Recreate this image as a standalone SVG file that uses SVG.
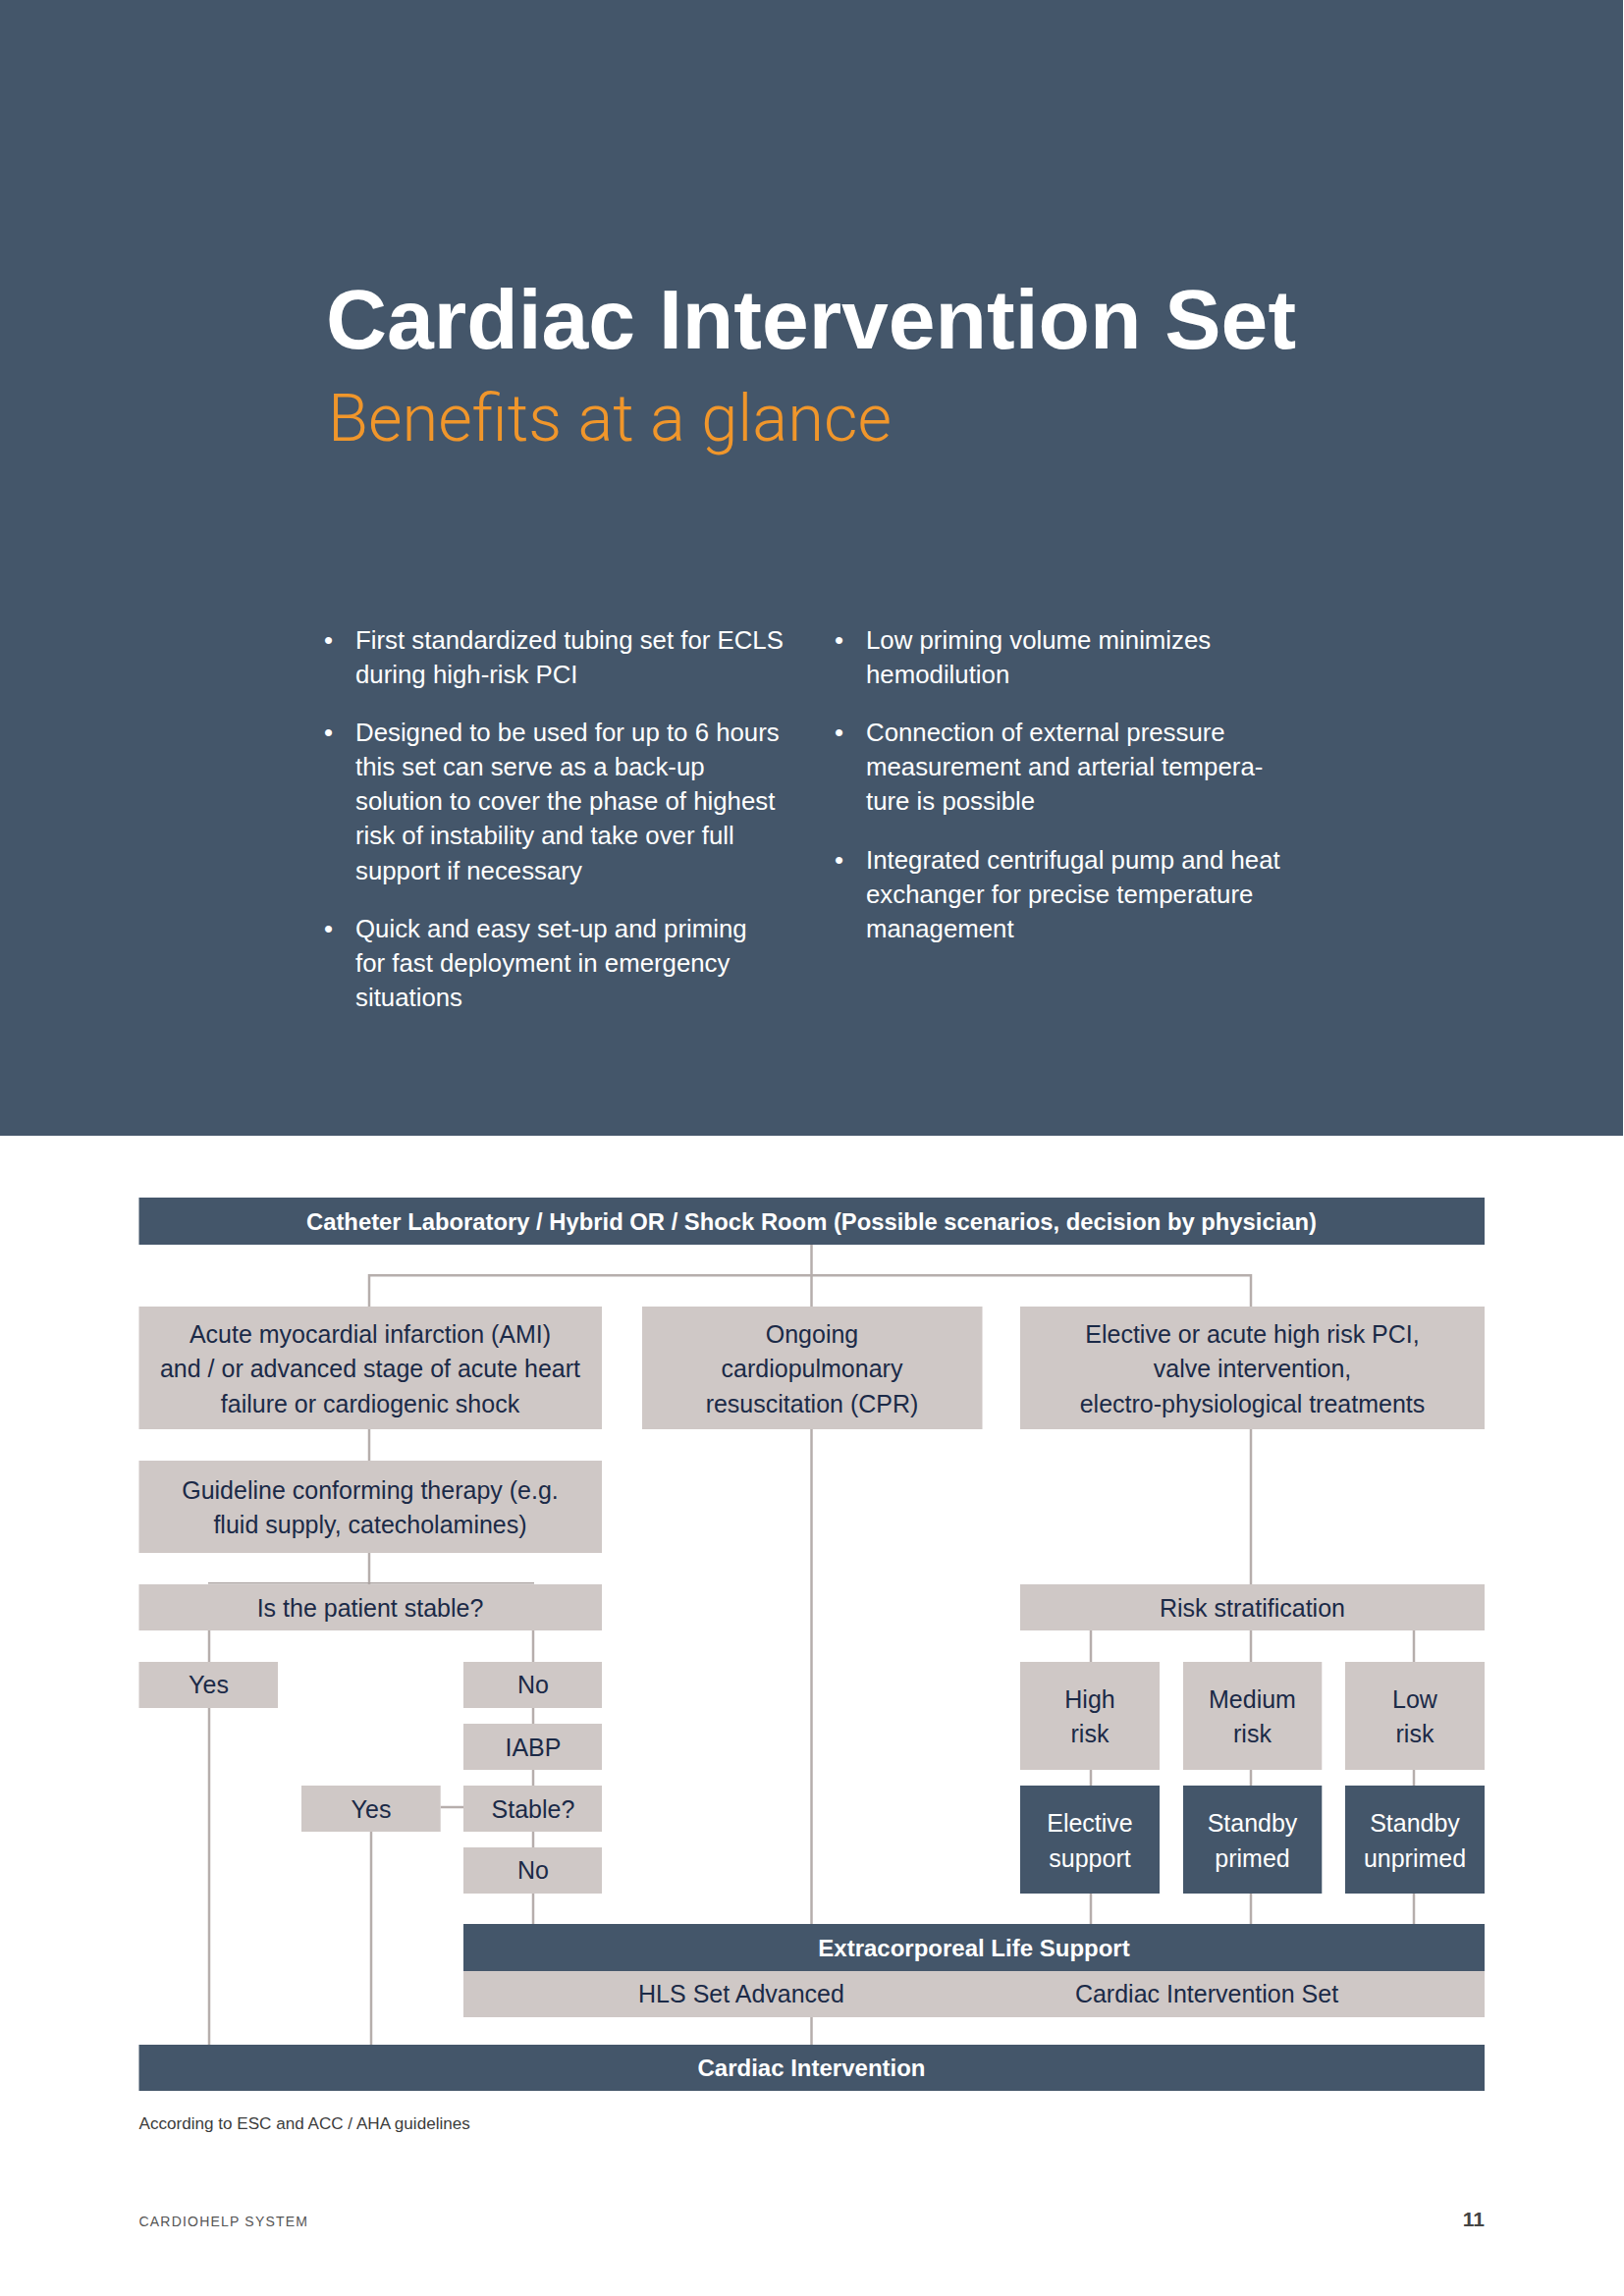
<svg xmlns="http://www.w3.org/2000/svg" width="1654" height="2339" viewBox="0 0 1654 2339">
<style>
  .hdr { fill:#44566A; }
  .lb { fill:#CFC8C6; }
  .db { fill:#44566A; }
  .t { font-family:"Liberation Sans", Arial, sans-serif; font-size:25px; fill:#1B2A47; text-anchor:middle; }
  .tw { font-family:"Liberation Sans", Arial, sans-serif; font-size:25px; fill:#FFFFFF; text-anchor:middle; }
  .tb { font-family:"Liberation Sans", Arial, sans-serif; font-size:24px; font-weight:bold; fill:#FFFFFF; text-anchor:middle; }
  .bul { font-family:"Liberation Sans", Arial, sans-serif; font-size:25.8px; fill:#FFFFFF; }
  .conn line { stroke:#B6AEAC; stroke-width:2.5; }
</style>
<rect width="1654" height="2339" fill="#FFFFFF"/>
<rect class="hdr" x="0" y="0" width="1653" height="1157"/>

<g id="header">
  <text x="332" y="355" font-family="'Liberation Sans', Arial, sans-serif" font-size="86" font-weight="bold" fill="#FFFFFF" textLength="988" lengthAdjust="spacingAndGlyphs">Cardiac Intervention Set</text>
  <text x="334" y="449" font-family="Roboto, 'Liberation Sans', sans-serif" font-size="66" font-weight="300" fill="#F0962B" textLength="574" lengthAdjust="spacingAndGlyphs">Benefits at a glance</text>
</g>

<g id="bullets-left" class="bul">
  <text x="330" y="661">•</text>
  <text x="362" y="661">First standardized tubing set for ECLS</text>
  <text x="362" y="696">during high-risk PCI</text>
  <text x="330" y="755">•</text>
  <text x="362" y="755">Designed to be used for up to 6 hours</text>
  <text x="362" y="790">this set can serve as a back-up</text>
  <text x="362" y="825">solution to cover the phase of highest</text>
  <text x="362" y="860">risk of instability and take over full</text>
  <text x="362" y="896">support if necessary</text>
  <text x="330" y="955">•</text>
  <text x="362" y="955">Quick and easy set-up and priming</text>
  <text x="362" y="990">for fast deployment in emergency</text>
  <text x="362" y="1025">situations</text>
</g>
<g id="bullets-right" class="bul">
  <text x="850" y="661">•</text>
  <text x="882" y="661">Low priming volume minimizes</text>
  <text x="882" y="696">hemodilution</text>
  <text x="850" y="755">•</text>
  <text x="882" y="755">Connection of external pressure</text>
  <text x="882" y="790">measurement and arterial tempera-</text>
  <text x="882" y="825">ture is possible</text>
  <text x="850" y="885">•</text>
  <text x="882" y="885">Integrated centrifugal pump and heat</text>
  <text x="882" y="920">exchanger for precise temperature</text>
  <text x="882" y="955">management</text>
</g>

<g id="connectors" class="conn">
  <line x1="826.5" y1="1268" x2="826.5" y2="1331"/>
  <line x1="375.7" y1="1299.3" x2="1274" y2="1299.3"/>
  <line x1="376" y1="1298" x2="376" y2="1331"/>
  <line x1="1274" y1="1298" x2="1274" y2="1331"/>
  <line x1="376" y1="1456" x2="376" y2="1488"/>
  <line x1="376" y1="1582" x2="376" y2="1614"/>
  <line x1="826.5" y1="1456" x2="826.5" y2="1960"/>
  <line x1="1274" y1="1456" x2="1274" y2="1614"/>
  <line x1="213" y1="1661" x2="213" y2="1693"/>
  <line x1="543" y1="1661" x2="543" y2="1693"/>
  <line x1="213" y1="1740" x2="213" y2="2083"/>
  <line x1="543" y1="1740" x2="543" y2="1756"/>
  <line x1="543" y1="1803" x2="543" y2="1819"/>
  <line x1="543" y1="1866" x2="543" y2="1882"/>
  <line x1="543" y1="1929" x2="543" y2="1960"/>
  <line x1="448.7" y1="1841" x2="472" y2="1841"/>
  <line x1="378" y1="1866" x2="378" y2="2083"/>
  <line x1="1111" y1="1661" x2="1111" y2="1693"/>
  <line x1="1274" y1="1661" x2="1274" y2="1693"/>
  <line x1="1440" y1="1661" x2="1440" y2="1693"/>
  <line x1="1111" y1="1803" x2="1111" y2="1819"/>
  <line x1="1274" y1="1803" x2="1274" y2="1819"/>
  <line x1="1440" y1="1803" x2="1440" y2="1819"/>
  <line x1="1111" y1="1929" x2="1111" y2="1960"/>
  <line x1="1274" y1="1929" x2="1274" y2="1960"/>
  <line x1="1440" y1="1929" x2="1440" y2="1960"/>
  <line x1="826.5" y1="2055" x2="826.5" y2="2083"/>
</g>

<g id="n-top">
  <rect class="db" x="141.5" y="1220" width="1370.5" height="48"/>
  <text class="tb" x="826.5" y="1253" textLength="1029" lengthAdjust="spacingAndGlyphs">Catheter Laboratory / Hybrid OR / Shock Room (Possible scenarios, decision by physician)</text>
</g>
<g id="n-ami">
  <rect class="lb" x="141.5" y="1331" width="471.5" height="125"/>
  <text class="t" x="377" y="1368">Acute myocardial infarction (AMI)</text>
  <text class="t" x="377" y="1403">and / or advanced stage of acute heart</text>
  <text class="t" x="377" y="1439">failure or cardiogenic shock</text>
</g>
<g id="n-cpr">
  <rect class="lb" x="654" y="1331" width="346.5" height="125"/>
  <text class="t" x="827" y="1368">Ongoing</text>
  <text class="t" x="827" y="1403">cardiopulmonary</text>
  <text class="t" x="827" y="1439">resuscitation (CPR)</text>
</g>
<g id="n-pci">
  <rect class="lb" x="1039" y="1331" width="473" height="125"/>
  <text class="t" x="1275.5" y="1368">Elective or acute high risk PCI,</text>
  <text class="t" x="1275.5" y="1403">valve intervention,</text>
  <text class="t" x="1275.5" y="1439">electro-physiological treatments</text>
</g>
<g id="n-guideline">
  <rect class="lb" x="141.5" y="1488" width="471.5" height="94"/>
  <text class="t" x="377" y="1527">Guideline conforming therapy (e.g.</text>
  <text class="t" x="377" y="1562">fluid supply, catecholamines)</text>
</g>
<g id="n-stable">
  <rect class="lb" x="141.5" y="1614" width="471.5" height="47"/>
  <line x1="212" y1="1612.8" x2="544" y2="1612.8" stroke="#A9A19F" stroke-width="1.5"/>
  <text class="t" x="377" y="1647">Is the patient stable?</text>
</g>
<g id="n-yes1">
  <rect class="lb" x="141.5" y="1693" width="141.5" height="47"/>
  <text class="t" x="212.5" y="1725">Yes</text>
</g>
<g id="n-no1">
  <rect class="lb" x="472" y="1693" width="141" height="47"/>
  <text class="t" x="543" y="1725">No</text>
</g>
<g id="n-iabp">
  <rect class="lb" x="472" y="1756" width="141" height="47"/>
  <text class="t" x="543" y="1789">IABP</text>
</g>
<g id="n-stable2">
  <rect class="lb" x="472" y="1819" width="141" height="47"/>
  <text class="t" x="543" y="1852">Stable?</text>
</g>
<g id="n-yes2">
  <rect class="lb" x="307" y="1819" width="141.7" height="47"/>
  <text class="t" x="378" y="1852">Yes</text>
</g>
<g id="n-no2">
  <rect class="lb" x="472" y="1882" width="141" height="47"/>
  <text class="t" x="543" y="1914">No</text>
</g>
<g id="n-risk">
  <rect class="lb" x="1039" y="1614" width="473" height="47"/>
  <text class="t" x="1275.5" y="1647">Risk stratification</text>
</g>
<g id="n-high">
  <rect class="lb" x="1039" y="1693" width="142" height="110"/>
  <text class="t" x="1110" y="1740">High</text>
  <text class="t" x="1110" y="1775">risk</text>
</g>
<g id="n-medium">
  <rect class="lb" x="1205" y="1693" width="141.3" height="110"/>
  <text class="t" x="1275.5" y="1740">Medium</text>
  <text class="t" x="1275.5" y="1775">risk</text>
</g>
<g id="n-low">
  <rect class="lb" x="1370" y="1693" width="142" height="110"/>
  <text class="t" x="1441" y="1740">Low</text>
  <text class="t" x="1441" y="1775">risk</text>
</g>
<g id="n-elective">
  <rect class="db" x="1039" y="1819" width="142" height="110"/>
  <text class="tw" x="1110" y="1866">Elective</text>
  <text class="tw" x="1110" y="1902">support</text>
</g>
<g id="n-primed">
  <rect class="db" x="1205" y="1819" width="141.3" height="110"/>
  <text class="tw" x="1275.5" y="1866">Standby</text>
  <text class="tw" x="1275.5" y="1902">primed</text>
</g>
<g id="n-unprimed">
  <rect class="db" x="1370" y="1819" width="142" height="110"/>
  <text class="tw" x="1441" y="1866">Standby</text>
  <text class="tw" x="1441" y="1902">unprimed</text>
</g>
<g id="n-ecls">
  <rect class="db" x="472" y="1960" width="1040" height="48"/>
  <text class="tb" x="992" y="1993">Extracorporeal Life Support</text>
  <rect class="lb" x="472" y="2008" width="1040" height="47"/>
  <text class="t" x="755" y="2040">HLS Set Advanced</text>
  <text class="t" x="1229" y="2040">Cardiac Intervention Set</text>
</g>
<g id="n-ci">
  <rect class="db" x="141.5" y="2083" width="1370.5" height="47"/>
  <text class="tb" x="826.5" y="2115">Cardiac Intervention</text>
</g>

<g id="footer">
  <text x="141.5" y="2169" font-family="'Liberation Sans', Arial, sans-serif" font-size="17.1" fill="#3C3C3C">According to ESC and ACC / AHA guidelines</text>
  <text x="141.5" y="2268" font-family="'Liberation Sans', Arial, sans-serif" font-size="14" letter-spacing="1.2" fill="#555555">CARDIOHELP SYSTEM</text>
  <text x="1512" y="2268" font-family="'Liberation Sans', Arial, sans-serif" font-size="21" font-weight="bold" fill="#444444" text-anchor="end">11</text>
</g>
</svg>
